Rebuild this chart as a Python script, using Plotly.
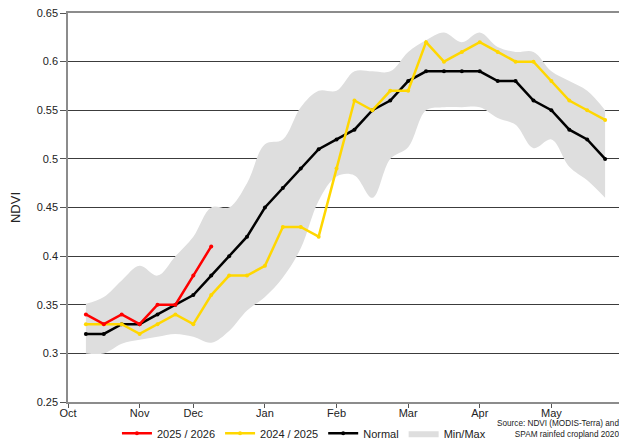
import plotly.graph_objects as go

# dekad index along the season (1 = first dekad shown after the Oct tick)
dekad = list(range(1, 31))

tick_pos = [0, 4, 7, 11, 15, 19, 23, 27]
tick_txt = ["Oct", "Nov", "Dec", "Jan", "Feb", "Mar", "Apr", "May"]

ndvi_2025_26 = [0.34, 0.33, 0.34, 0.33, 0.35, 0.35, 0.38, 0.41]

ndvi_2024_25 = [0.33, 0.33, 0.33, 0.32, 0.33, 0.34, 0.33, 0.36, 0.38, 0.38,
                0.39, 0.43, 0.43, 0.42, 0.49, 0.56, 0.55, 0.57, 0.57, 0.62,
                0.60, 0.61, 0.62, 0.61, 0.60, 0.60, 0.58, 0.56, 0.55, 0.54]

ndvi_normal = [0.32, 0.32, 0.33, 0.33, 0.34, 0.35, 0.36, 0.38, 0.40, 0.42,
               0.45, 0.47, 0.49, 0.51, 0.52, 0.53, 0.55, 0.56, 0.58, 0.59,
               0.59, 0.59, 0.59, 0.58, 0.58, 0.56, 0.55, 0.53, 0.52, 0.50]

ndvi_max = [0.351, 0.358, 0.375, 0.39, 0.38, 0.40, 0.42, 0.45, 0.45, 0.475,
            0.515, 0.52, 0.553, 0.57, 0.57, 0.59, 0.59, 0.59, 0.61, 0.622,
            0.63, 0.62, 0.63, 0.615, 0.61, 0.61, 0.59, 0.58, 0.57, 0.55]

ndvi_min = [0.30, 0.30, 0.31, 0.314, 0.317, 0.32, 0.317, 0.311, 0.323, 0.344,
            0.358, 0.378, 0.408, 0.457, 0.482, 0.483, 0.46, 0.50, 0.512, 0.55,
            0.553, 0.553, 0.553, 0.542, 0.535, 0.511, 0.52, 0.492, 0.478, 0.46]

BAND = "#dedede"
FONT = dict(family="Liberation Sans, Arial, sans-serif", size=11, color="#222")

fig = go.Figure()

# min/max envelope
fig.add_trace(go.Scatter(
    x=dekad, y=ndvi_max, mode="lines", line=dict(width=0, shape="spline", color=BAND),
    showlegend=False, hoverinfo="skip",
))
fig.add_trace(go.Scatter(
    x=dekad, y=ndvi_min, mode="lines", line=dict(width=0, shape="spline", color=BAND),
    fill="tonexty", fillcolor=BAND, name="Min/Max", legendrank=4,
))

def add_line(y, color, name, rank):
    fig.add_trace(go.Scatter(
        x=dekad[:len(y)], y=y, mode="lines+markers", name=name, legendrank=rank,
        line=dict(color=color, width=2.5),
        marker=dict(color=color, size=4),
    ))

add_line(ndvi_normal, "#000000", "Normal", 3)
add_line(ndvi_2024_25, "#ffd700", "2024 / 2025", 2)
add_line(ndvi_2025_26, "#ff0000", "2025 / 2026", 1)

fig.add_annotation(
    text="Source: NDVI (MODIS-Terra) and<br>SPAM rainfed cropland 2020",
    xref="paper", yref="paper", x=1, xshift=-2, y=-0.038, xanchor="right", yanchor="top",
    align="right", showarrow=False,
    font=dict(family="Liberation Sans, Arial, sans-serif", size=8.2, color="#222"),
)

# page body adds an 8px margin, so the figure is a little smaller than the window
fig.update_layout(
    width=619, height=431,
    margin=dict(l=60, r=4, t=5, b=37, autoexpand=False),
    plot_bgcolor="white", paper_bgcolor="white",
    font=FONT,
    legend=dict(
        orientation="h", xref="container", yref="container",
        x=0.176, y=0.047, xanchor="left", yanchor="top",
        font=FONT, itemwidth=30, traceorder="normal",
    ),
    xaxis=dict(
        range=[0, 31], tickvals=tick_pos, ticktext=tick_txt, automargin=False,
        showgrid=False, zeroline=False, ticklabeloverflow="allow",
        ticklabelstandoff=-4,
        showline=True, mirror=True, linecolor="#8c8c8c", linewidth=1.5,
        ticks="outside", ticklen=4, tickcolor="#555",
    ),
    yaxis=dict(
        range=[0.25, 0.65], dtick=0.05, tick0=0.25, automargin=False,
        showgrid=True, gridcolor="#3c3c3c", gridwidth=1, zeroline=False,
        ticklabeloverflow="allow",
        showline=True, mirror=True, linecolor="#8c8c8c", linewidth=1.5,
        ticks="outside", ticklen=6, tickcolor="#555",
        title=dict(text="NDVI", standoff=14),
    ),
)

fig.write_html("out.html")
